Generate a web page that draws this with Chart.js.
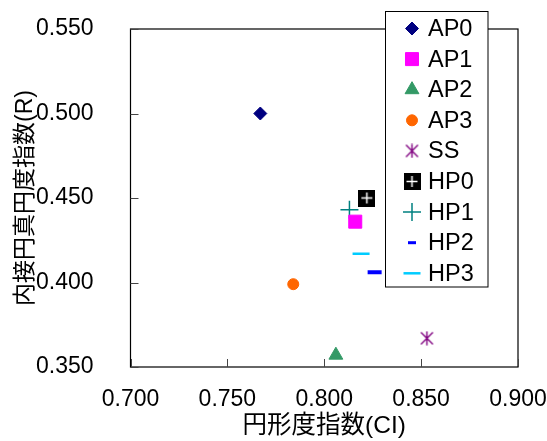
<!DOCTYPE html>
<html>
<head>
<meta charset="utf-8">
<script src="https://cdn.jsdelivr.net/npm/chart.js@4/dist/chart.umd.min.js"></script>
<style>
  html, body { margin: 0; padding: 0; background: #fff; }
  #wrap { width: 547px; height: 441px; }
</style>
</head>
<body>
<div id="wrap"><canvas id="shapeChart" width="547" height="441"></canvas></div>
<script>
// Series names and their (CI, R) values
const seriesNames = ['AP0', 'AP1', 'AP2', 'AP3', 'SS', 'HP0', 'HP1', 'HP2', 'HP3'];
const ciValues = [0.767, 0.816, 0.806, 0.784, 0.853, 0.822, 0.813, 0.826, 0.819];
const rValues = [0.500, 0.436, 0.357, 0.399, 0.367, 0.450, 0.443, 0.406, 0.417];

// Axis ranges
const xRange = [0.700, 0.900];
const yRange = [0.350, 0.550];
const tickStep = 0.05;

const FONT = "'Liberation Sans', Arial, 'Noto Sans CJK JP', sans-serif";

// Black square with a white plus, used for HP0
function makeHP0Marker() {
    const c = document.createElement('canvas');
    c.width = 17; c.height = 17;
    const g = c.getContext('2d');
    g.fillStyle = '#000';
    g.fillRect(0, 0, 17, 17);
    g.strokeStyle = '#fff';
    g.lineWidth = 1.5;
    g.beginPath();
    g.moveTo(3, 8.5); g.lineTo(14, 8.5);
    g.moveTo(8.5, 3); g.lineTo(8.5, 14);
    g.stroke();
    return c;
}

// Six-armed asterisk, used for SS
function makeStarMarker() {
    const c = document.createElement('canvas');
    c.width = 15; c.height = 15;
    const g = c.getContext('2d');
    g.strokeStyle = '#800080';
    g.lineWidth = 1.4;
    g.beginPath();
    g.moveTo(7.5, 0.5); g.lineTo(7.5, 14.5);
    g.moveTo(1.5, 1.5); g.lineTo(13.5, 13.5);
    g.moveTo(13.5, 1.5); g.lineTo(1.5, 13.5);
    g.stroke();
    return c;
}

const markerStyles = [
    { color: '#000080', pointStyle: 'rectRot', radius: 6.5, borderWidth: 1 },
    { color: '#FF00FF', pointStyle: 'rect', radius: 9.2, borderWidth: 1 },
    { color: '#339966', pointStyle: 'triangle', radius: 8, borderWidth: 1 },
    { color: '#FF6600', pointStyle: 'circle', radius: 5.5, borderWidth: 1 },
    { color: '#800080', pointStyle: makeStarMarker(), radius: 7, borderWidth: 1 },
    { color: '#000000', pointStyle: makeHP0Marker(), radius: 8, borderWidth: 1 },
    { color: '#008080', pointStyle: 'cross', radius: 9, borderWidth: 1.5 },
    { color: '#0000FF', pointStyle: 'line', radius: 7, borderWidth: 4, legendRadius: 4, legendWidth: 3 },
    { color: '#00CCFF', pointStyle: 'line', radius: 8.5, borderWidth: 2.5 }
];

const datasets = seriesNames.map((name, i) => {
    const s = markerStyles[i];
    return {
        label: name,
        data: [{ x: ciValues[i], y: rValues[i] }],
        pointStyle: s.pointStyle,
        pointRadius: s.radius,
        pointHoverRadius: s.radius,
        pointBorderWidth: s.borderWidth,
        backgroundColor: s.color,
        borderColor: s.color
    };
});

// Frame around the plot area with inward tick marks
const framePlugin = {
    id: 'frame',
    afterDatasetsDraw(chart) {
        const { ctx, chartArea: a, scales } = chart;
        ctx.save();
        ctx.strokeStyle = '#000';
        ctx.lineWidth = 1.2;
        ctx.strokeRect(a.left, a.top, a.right - a.left, a.bottom - a.top);
        ctx.lineWidth = 1;
        ctx.strokeStyle = '#444';
        ctx.beginPath();
        scales.x.ticks.forEach((t, i) => {
            const px = Math.round(scales.x.getPixelForTick(i)) + 0.5;
            ctx.moveTo(px, a.bottom);
            ctx.lineTo(px, a.bottom - 8);
        });
        scales.y.ticks.forEach((t, i) => {
            const py = Math.round(scales.y.getPixelForTick(i)) + 0.5;
            ctx.moveTo(a.left, py);
            ctx.lineTo(a.left + 8, py);
        });
        ctx.stroke();
        ctx.restore();
    }
};

// Boxed legend drawn over the top right of the plot
const legendPlugin = {
    id: 'boxLegend',
    afterDraw(chart) {
        const ctx = chart.ctx;
        const box = { left: 385.5, top: 11.5, right: 488, bottom: 287 };
        ctx.save();
        ctx.fillStyle = '#fff';
        ctx.fillRect(box.left, box.top, box.right - box.left, box.bottom - box.top);
        ctx.strokeStyle = '#000';
        ctx.lineWidth = 1;
        ctx.strokeRect(box.left, box.top, box.right - box.left, box.bottom - box.top);

        ctx.font = '23.5px ' + FONT;
        ctx.textBaseline = 'middle';
        ctx.textAlign = 'left';
        seriesNames.forEach((name, i) => {
            const s = markerStyles[i];
            const y = 28.5 + i * 30.6;
            ctx.fillStyle = s.color;
            ctx.strokeStyle = s.color;
            ctx.lineWidth = s.legendWidth || s.borderWidth;
            Chart.helpers.drawPoint(ctx, {
                pointStyle: s.pointStyle,
                radius: s.legendRadius || s.radius,
                borderWidth: s.legendWidth || s.borderWidth,
                rotation: 0
            }, 412, y);
            ctx.fillStyle = '#000';
            ctx.fillText(name, 428, y + 1);
        });
        ctx.restore();
    }
};

const ctx = document.getElementById('shapeChart').getContext('2d');
new Chart(ctx, {
    type: 'scatter',
    data: { datasets: datasets },
    options: {
        responsive: false,
        animation: false,
        layout: { padding: { left: 0, top: 29, right: 29, bottom: 0 } },
        plugins: {
            legend: { display: false },
            tooltip: { enabled: false }
        },
        scales: {
            x: {
                min: xRange[0],
                max: xRange[1],
                grid: { display: false },
                border: { display: false },
                ticks: {
                    stepSize: tickStep,
                    padding: 11,
                    color: '#000',
                    font: { family: FONT, size: 23 },
                    maxRotation: 0,
                    callback: v => Number(v).toFixed(3)
                },
                title: {
                    display: true,
                    text: '円形度指数(CI)',
                    color: '#000',
                    font: { family: FONT, size: 24.5 },
                    padding: { top: 0, bottom: 0 }
                },
                afterFit(scale) {
                    scale.height = 74;
                    scale.paddingLeft = 0;
                    scale.paddingRight = 0;
                }
            },
            y: {
                min: yRange[0],
                max: yRange[1],
                grid: { display: false },
                border: { display: false },
                ticks: {
                    stepSize: tickStep,
                    padding: 29,
                    color: '#000',
                    font: { family: FONT, size: 23 },
                    callback: v => Number(v).toFixed(3)
                },
                title: {
                    display: true,
                    text: '内接円真円度指数(R)',
                    color: '#000',
                    font: { family: FONT, size: 23 },
                    padding: { top: 12, bottom: 0 }
                },
                afterFit(scale) {
                    scale.width = 130.5;
                    scale.paddingTop = 0;
                    scale.paddingBottom = 0;
                }
            }
        }
    },
    plugins: [framePlugin, legendPlugin]
});
</script>
</body>
</html>
